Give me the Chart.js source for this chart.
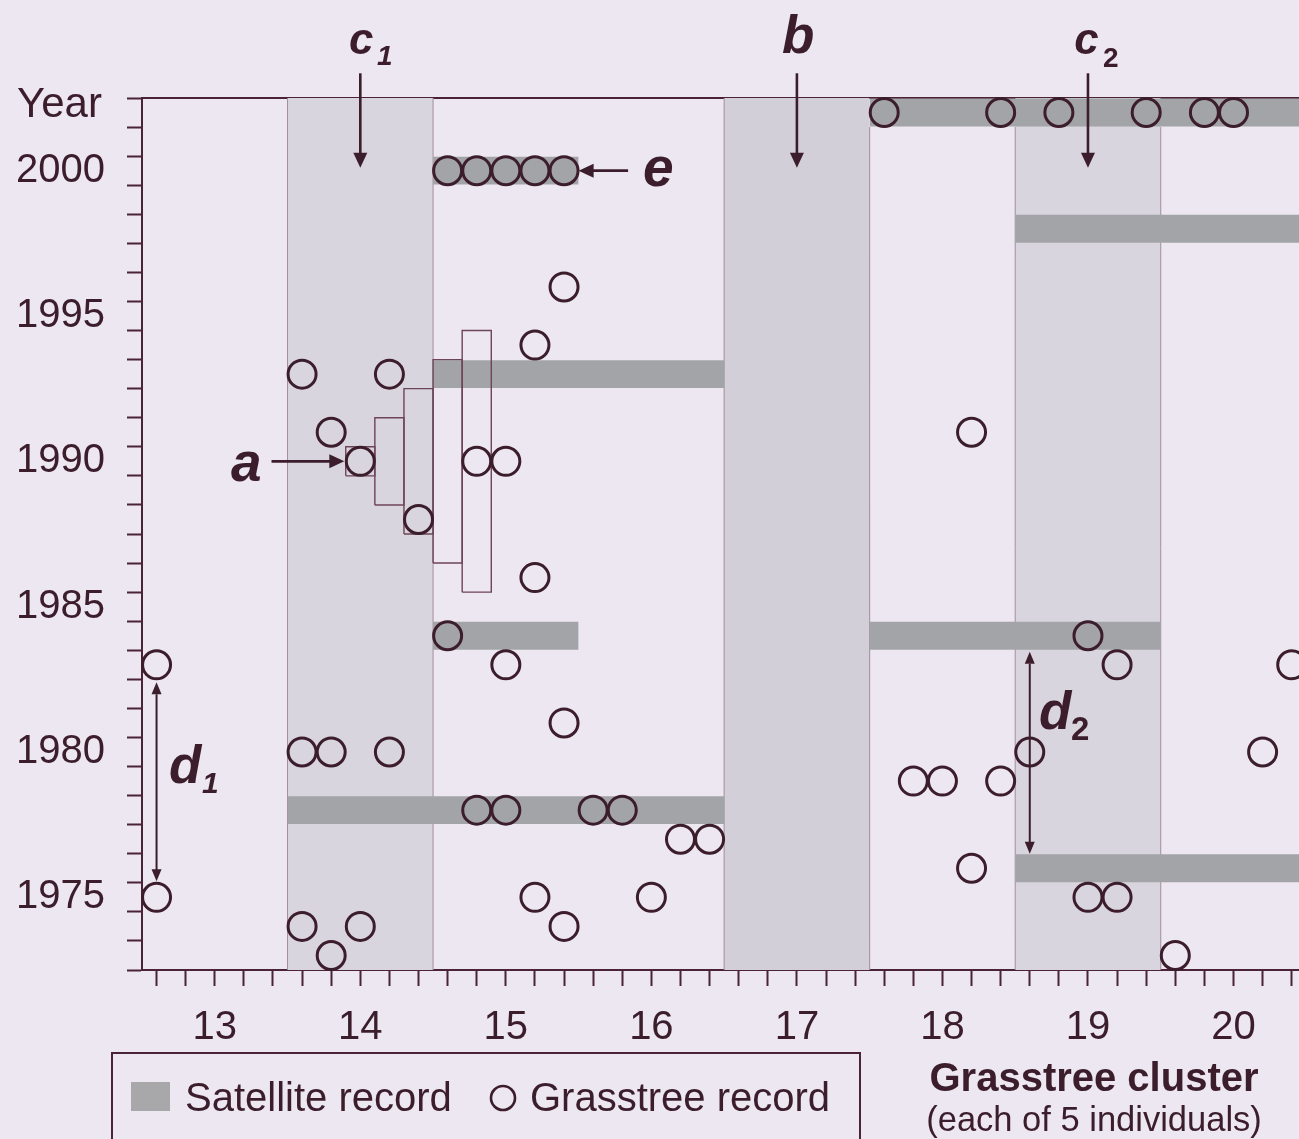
<!DOCTYPE html>
<html>
<head>
<meta charset="utf-8">
<script src="https://cdn.jsdelivr.net/npm/chart.js@4.4.1/dist/chart.umd.min.js"></script>
<style>
  html, body { margin: 0; padding: 0; background: #ece7f1; }
  #wrap { width: 1299px; height: 1139px; position: relative; }
</style>
</head>
<body>
<div id="wrap"><canvas id="c"></canvas></div>
<script>
const FONT = '"Liberation Sans", Arial, Helvetica, sans-serif';
const INK = '#3b1d2c';
const AXIS = '#4a2337';
const SHADE = '#d9d5df';
const SHADE_DARK = '#d3cfd9';
const SAT = '#a3a4a7';
const SOFT = '#a28c9a';
const BOX = '#6e4458';

const X_MIN = 12.5, X_MAX = 20.45, Y_MIN = 1972.5, Y_MAX = 2002.5;

// axis labels
const xTickLabels = [13, 14, 15, 16, 17, 18, 19, 20];
const yTickLabels = [1975, 1980, 1985, 1990, 1995, 2000];

// grasstree records: individual position (cluster +/- 0.2 steps) and year
const grassX = [
  12.6, 12.6,
  13.6, 14.2, 13.8, 14.0, 14.4, 13.6, 13.8, 14.2, 13.6, 14.0, 13.8,
  14.6, 14.8, 15.0, 15.2, 15.4, 15.4, 15.2, 14.8, 15.0, 15.2, 14.6, 15.0, 15.4, 14.8, 15.0, 15.2, 15.4,
  15.6, 15.8, 16.2, 16.4, 16.0,
  17.6, 18.4, 18.2, 17.8, 18.0, 18.4, 18.2,
  18.8, 19.4, 19.0, 19.2, 18.6, 19.0, 19.2,
  19.8, 20.0, 19.6, 20.2, 20.4
];
const grassYear = [
  1983, 1975,
  1993, 1993, 1991, 1990, 1988, 1980, 1980, 1980, 1974, 1974, 1973,
  2000, 2000, 2000, 2000, 2000, 1996, 1994, 1990, 1990, 1986, 1984, 1983, 1981, 1978, 1978, 1975, 1974,
  1978, 1978, 1977, 1977, 1975,
  2002, 2002, 1991, 1979, 1979, 1979, 1976,
  2002, 2002, 1984, 1983, 1980, 1975, 1975,
  2002, 2002, 1973, 1980, 1983
];

// satellite records: span of clusters and year
const satStart = [13.5, 14.5, 14.5, 14.5, 17.5, 18.5, 17.5, 18.5];
const satEnd   = [16.5, 16.5, 15.5, 15.5, 20.5, 20.5, 19.5, 20.5];
const satYear  = [1978, 1993, 1984, 2000, 2002, 1998, 1984, 1976];

// shaded clusters (c1, b, c2)
const shadeStart = [13.5, 16.5, 18.5];
const shadeEnd   = [14.5, 17.5, 19.5];

// cluster dividers
const dividerX   = [13.5, 14.5, 16.5, 17.5, 18.5, 19.5];
const dividerTop = [2002.5, 2002.5, 2002.5, 2001.5, 2001.5, 2001.5];

// widening windows around 'a'
const winLeft  = [13.9, 14.1, 14.3, 14.5, 14.7];
const winRight = [14.1, 14.3, 14.5, 14.7, 14.9];
const winLow   = [1989.5, 1988.5, 1987.5, 1986.5, 1985.5];
const winHigh  = [1990.5, 1991.5, 1992.5, 1993.5, 1994.5];

// annotations (data units)
const arrows = [
  { x0: 14.0, y0: 2003.35, x1: 14.0, y1: 2000.1, w: 2.6, len: 15, half: 7 },
  { x0: 17.0, y0: 2003.35, x1: 17.0, y1: 2000.1, w: 2.6, len: 15, half: 7 },
  { x0: 19.0, y0: 2003.35, x1: 19.0, y1: 2000.1, w: 2.6, len: 15, half: 7 },
  { x0: 15.84, y0: 2000, x1: 15.5, y1: 2000, w: 2.6, len: 15, half: 7 },
  { x0: 13.39, y0: 1990, x1: 13.89, y1: 1990, w: 2.6, len: 15, half: 7 },
  { x0: 12.6, y0: 1982.4, x1: 12.6, y1: 1975.55, w: 2, len: 12, half: 5, both: true },
  { x0: 18.6, y0: 1983.45, x1: 18.6, y1: 1976.5, w: 2, len: 12, half: 5, both: true }
];
const letters = [
  { t: 'c', x: 13.923, y: 2004.01, size: 44, style: 'italic bold' },
  { t: '1', x: 14.115, y: 2003.64, size: 28, style: 'italic bold' },
  { t: 'b', x: 16.898, y: 2004.05, size: 53, style: 'italic bold' },
  { t: 'c', x: 18.905, y: 2004.01, size: 44, style: 'italic bold' },
  { t: '2', x: 19.104, y: 2003.57, size: 28, style: 'bold' },
  { t: 'e', x: 15.943, y: 1999.47, size: 55, style: 'italic bold' },
  { t: 'a', x: 13.112, y: 1989.32, size: 55, style: 'italic bold' },
  { t: 'd', x: 12.686, y: 1978.94, size: 53, style: 'italic bold' },
  { t: '1', x: 12.913, y: 1978.59, size: 30, style: 'italic bold' },
  { t: 'd', x: 18.664, y: 1980.78, size: 53, style: 'italic bold' },
  { t: '2', x: 18.884, y: 1980.40, size: 33, style: 'bold' }
];

const isInt = v => Math.abs(v - Math.round(v)) < 1e-6;
const xMarks = []; for (let k = 63; k <= 102; k++) xMarks.push(k / 5);
const yMarks = []; for (let k = 3945; k <= 4005; k += 2) yMarks.push(k / 2);
const yAll = yMarks.concat(yTickLabels).sort((a, b) => a - b);

const datasets = [];
datasets.push({
  type: 'scatter', label: 'Grasstree record',
  data: grassX.map((v, i) => ({ x: v, y: grassYear[i] })),
  pointStyle: 'circle', pointRadius: 14, pointBorderWidth: 3,
  pointBorderColor: INK, pointBackgroundColor: 'rgba(0,0,0,0)',
  clip: false, order: 0
});
winLeft.forEach((l, i) => {
  const r = winRight[i], lo = winLow[i], hi = winHigh[i];
  datasets.push({
    type: 'line', data: [{x:l,y:lo},{x:l,y:hi},{x:r,y:hi},{x:r,y:lo},{x:l,y:lo}],
    borderColor: BOX, borderWidth: 1.4, pointRadius: 0, fill: false, tension: 0, order: 1
  });
});
satStart.forEach((s, i) => {
  datasets.push({
    type: 'line', label: 'Satellite record',
    data: [{x: s, y: satYear[i] + 0.48}, {x: satEnd[i], y: satYear[i] + 0.48}],
    fill: { value: satYear[i] - 0.48 }, backgroundColor: SAT,
    borderColor: 'rgba(0,0,0,0)', borderWidth: 0, pointRadius: 0, order: 2
  });
});
dividerX.forEach((d, i) => {
  datasets.push({
    type: 'line', data: [{x: d, y: Y_MIN}, {x: d, y: dividerTop[i]}],
    borderColor: SOFT, borderWidth: 1, pointRadius: 0, fill: false, order: 3
  });
});
shadeStart.forEach((s, i) => {
  datasets.push({
    type: 'line', data: [{x: s, y: Y_MAX}, {x: shadeEnd[i], y: Y_MAX}],
    fill: { value: Y_MIN }, backgroundColor: i === 1 ? SHADE_DARK : SHADE,
    borderColor: 'rgba(0,0,0,0)', borderWidth: 0, pointRadius: 0, order: 4
  });
});

function drawArrow(ctx, x0, y0, x1, y1, a) {
  const ang = Math.atan2(y1 - y0, x1 - x0), ux = Math.cos(ang), uy = Math.sin(ang);
  const head = (tx, ty, c, s) => {
    ctx.beginPath();
    ctx.moveTo(tx, ty);
    ctx.lineTo(tx - c * a.len - s * a.half, ty - s * a.len + c * a.half);
    ctx.lineTo(tx - c * a.len + s * a.half, ty - s * a.len - c * a.half);
    ctx.closePath(); ctx.fill();
  };
  ctx.lineWidth = a.w;
  ctx.beginPath();
  ctx.moveTo(a.both ? x0 + ux * a.len : x0, a.both ? y0 + uy * a.len : y0);
  ctx.lineTo(x1 - ux * a.len * 0.8, y1 - uy * a.len * 0.8);
  ctx.stroke();
  head(x1, y1, ux, uy);
  if (a.both) head(x0, y0, -ux, -uy);
}

const decor = {
  id: 'decor',
  afterDraw(chart) {
    const { ctx, scales: { x, y } } = chart;
    const px = v => x.getPixelForValue(v), py = v => y.getPixelForValue(v);
    ctx.save();
    ctx.strokeStyle = INK; ctx.fillStyle = INK;
    arrows.forEach(a => drawArrow(ctx, px(a.x0), py(a.y0), px(a.x1), py(a.y1), a));
    ctx.textAlign = 'left'; ctx.textBaseline = 'alphabetic';
    letters.forEach(l => {
      ctx.font = `${l.style} ${l.size}px ${FONT}`;
      ctx.fillText(l.t, px(l.x), py(l.y));
    });

    // y axis title
    ctx.font = `42px ${FONT}`;
    ctx.fillText('Year', 17, 117);

    // x axis title
    ctx.textAlign = 'center';
    ctx.font = `bold 40px ${FONT}`;
    ctx.fillText('Grasstree cluster', 1094, 1091);
    ctx.font = `34.5px ${FONT}`;
    ctx.fillText('(each of 5 individuals)', 1094, 1131);

    // legend
    ctx.textAlign = 'left';
    ctx.lineWidth = 2; ctx.strokeStyle = AXIS;
    ctx.strokeRect(112, 1053, 748, 110);
    ctx.fillStyle = '#a8a8ab';
    ctx.fillRect(131, 1082, 39, 29);
    ctx.fillStyle = INK;
    ctx.font = `40px ${FONT}`;
    ctx.fillText('Satellite record', 185, 1111);
    ctx.lineWidth = 2.6; ctx.strokeStyle = INK;
    ctx.beginPath(); ctx.arc(503, 1098, 12, 0, Math.PI * 2); ctx.stroke();
    ctx.fillText('Grasstree record', 530, 1111);
    ctx.restore();
  }
};

new Chart(document.getElementById('c'), {
  type: 'scatter',
  data: { datasets },
  options: {
    responsive: true, maintainAspectRatio: false, animation: false, events: [],
    layout: { autoPadding: false, padding: { top: 98, left: 0, right: 0, bottom: 0 } },
    plugins: { legend: { display: false }, tooltip: { enabled: false } },
    scales: {
      x: {
        type: 'linear', position: 'bottom', min: X_MIN, max: X_MAX,
        afterBuildTicks: s => { s.ticks = xMarks.map(v => ({ value: v })); },
        afterFit: s => { s.height = 169; s.paddingLeft = 0; s.paddingRight = 0; },
        grid: { drawOnChartArea: false, tickLength: 16, tickWidth: 2, tickColor: AXIS },
        border: { display: true, color: AXIS, width: 2 },
        ticks: {
          autoSkip: false, maxRotation: 0, padding: 18, color: INK,
          font: { family: FONT, size: 40 },
          callback: v => (isInt(v) && xTickLabels.includes(Math.round(v))) ? String(Math.round(v)) : ''
        }
      },
      xTop: {
        type: 'linear', position: 'top', min: X_MIN, max: X_MAX,
        afterFit: s => { s.height = 0; s.paddingLeft = 0; s.paddingRight = 0; },
        grid: { display: false }, ticks: { display: false },
        border: { display: true, color: AXIS, width: 2 }
      },
      y: {
        type: 'linear', position: 'left', min: Y_MIN, max: Y_MAX,
        afterBuildTicks: s => { s.ticks = yAll.map(v => ({ value: v })); },
        afterFit: s => { s.width = 142; s.paddingTop = 0; s.paddingBottom = 0; },
        grid: {
          drawOnChartArea: false, tickLength: 15, tickWidth: 2,
          tickColor: c => (c.tick && isInt(c.tick.value)) ? 'rgba(0,0,0,0)' : AXIS
        },
        border: { display: true, color: AXIS, width: 2 },
        ticks: {
          autoSkip: false, padding: 22, color: INK,
          font: { family: FONT, size: 40 },
          callback: v => (isInt(v) && yTickLabels.includes(Math.round(v))) ? String(Math.round(v)) : ''
        }
      }
    }
  },
  plugins: [decor]
});
</script>
</body>
</html>
